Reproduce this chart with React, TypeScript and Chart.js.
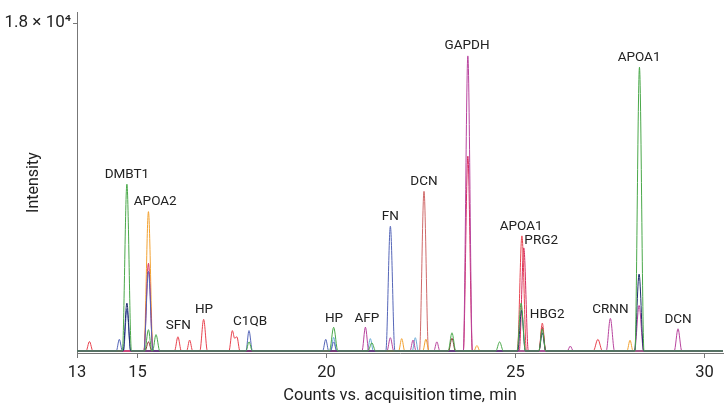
import React, { useEffect, useRef } from "react";
import { Chart, registerables } from "chart.js";

Chart.register(...registerables);

type Pt = [number, number];

// Axis settings (minutes / counts)
const xTickValues = [13.4, 15, 20, 25, 30];
const xTickLabels = ["13", "15", "20", "25", "30"];
const yTickValues = [18000];
const yTickLabels = ["1.8 × 10⁴"];

// Chromatogram traces: [time (min), intensity (counts)]
const traceGreen: Pt[] = [
  [13.4, 0], [14.6, 0], [14.72, 9160], [14.84, 0], [15.19, 0], [15.29, 1170], [15.38, 0],
  [15.4, 0], [15.49, 900], [15.59, 0], [17.87, 0], [17.95, 500], [18.04, 0],
  [20.08, 0], [20.19, 1300], [20.3, 0], [21.1, 0], [21.2, 450], [21.3, 0],
  [23.22, 0], [23.32, 1000], [23.42, 0], [24.48, 0], [24.58, 500], [24.68, 0],
  [25.04, 0], [25.15, 2630], [25.26, 0], [25.62, 0], [25.71, 1200], [25.8, 0],
  [28.16, 0], [28.28, 15580], [28.4, 0], [30.49, 0],
];
const traceNavy: Pt[] = [
  [13.4, 0], [14.62, 0], [14.72, 2630], [14.82, 0], [25.06, 0], [25.16, 2240], [25.26, 0],
  [25.62, 0], [25.71, 1000], [25.8, 0], [28.15, 0], [28.27, 4220], [28.39, 0], [30.49, 0],
];
const traceMagenta: Pt[] = [
  [13.4, 0], [20.94, 0], [21.03, 1310], [21.12, 0], [21.6, 0], [21.69, 730], [21.78, 0],
  [22.21, 0], [22.29, 600], [22.37, 0], [22.84, 0], [22.92, 500], [23.0, 0],
  [23.62, 0], [23.74, 16200], [23.86, 0], [26.37, 0], [26.45, 270], [26.53, 0],
  [27.4, 0], [27.51, 1790], [27.62, 0], [28.15, 0], [28.27, 2500], [28.39, 0],
  [29.2, 0], [29.3, 1220], [29.4, 0], [30.49, 0],
];
const traceBlue: Pt[] = [
  [13.4, 0], [14.44, 0], [14.52, 640], [14.6, 0], [14.63, 0], [14.72, 2300], [14.82, 0],
  [15.17, 0], [15.29, 4370], [15.41, 0], [17.87, 0], [17.95, 1120], [18.04, 0],
  [19.9, 0], [19.98, 640], [20.06, 0], [20.11, 0], [20.19, 500], [20.27, 0],
  [21.57, 0], [21.69, 6850], [21.81, 0], [30.49, 0],
];
const traceRed: Pt[] = [
  [13.4, 0], [13.64, 0], [13.73, 520], [13.82, 0], [15.98, 0], [16.07, 780], [16.16, 0],
  [16.3, 0], [16.38, 600], [16.46, 0], [16.65, 0], [16.75, 1740], [16.85, 0],
  [17.42, 0], [17.51, 1120], [17.57, 700], [17.63, 780], [17.71, 0],
  [25.05, 0], [25.17, 6320], [25.29, 0], [25.62, 0], [25.71, 1530], [25.8, 0],
  [27.06, 0], [27.18, 640], [27.3, 0], [30.49, 0],
];
const traceCrimson: Pt[] = [
  [13.4, 0], [15.17, 0], [15.29, 4810], [15.41, 0], [23.62, 0], [23.74, 10700], [23.86, 0],
  [25.1, 0], [25.22, 5660], [25.34, 0], [30.49, 0],
];
const traceOrange: Pt[] = [
  [13.4, 0], [15.17, 0], [15.29, 7650], [15.41, 0], [21.91, 0], [21.99, 680], [22.07, 0],
  [22.55, 0], [22.63, 650], [22.71, 0], [23.9, 0], [23.98, 300], [24.06, 0],
  [27.95, 0], [28.03, 590], [28.11, 0], [30.49, 0],
];
const tracePink: Pt[] = [[13.4, 0], [22.46, 0], [22.58, 8770], [22.7, 0], [30.49, 0]];
const traceDarkRed: Pt[] = [
  [13.4, 0], [15.2, 0], [15.29, 500], [15.38, 0], [23.23, 0], [23.32, 700], [23.41, 0],
  [25.62, 0], [25.71, 1300], [25.8, 0], [30.49, 0],
];
const traceLightBlue: Pt[] = [
  [13.4, 0], [20.11, 0], [20.19, 750], [20.27, 0], [21.08, 0], [21.16, 680], [21.24, 0],
  [22.27, 0], [22.35, 730], [22.43, 0], [30.49, 0],
];

const traces: Pt[][] = [
  traceGreen, traceNavy, traceMagenta, traceBlue, traceRed,
  traceCrimson, traceOrange, tracePink, traceDarkRed, traceLightBlue,
];
const traceColors = [
  "#4aa84a", "#1e2c6e", "#b8449e", "#5566b8", "#e8424e",
  "#d62a5e", "#f2a232", "#cf6a6a", "#8c2a30", "#6aaad6",
];

// Peak annotations
const peakNames = [
  "DMBT1", "APOA2", "SFN", "HP", "C1QB", "HP", "AFP", "FN", "DCN", "GAPDH",
  "APOA1", "PRG2", "HBG2", "CRNN", "APOA1", "DCN",
];
const peakLabelTimes = [
  14.72, 15.47, 16.08, 16.76, 17.98, 20.2, 21.07, 21.69, 22.58, 23.72,
  25.15, 25.68, 25.84, 27.51, 28.27, 29.3,
];
const peakLabelIntensities = [
  9690, 8200, 1385, 2290, 1600, 1760, 1760, 7400, 9320, 16770,
  6820, 6070, 2020, 2290, 16080, 1700,
];

const FONT = "Roboto, 'Noto Sans', sans-serif";

const labelPlugin = {
  id: "peakLabels",
  afterDatasetsDraw(chart: any) {
    const { ctx, scales } = chart;
    ctx.save();
    ctx.font = `13.5px ${FONT}`;
    ctx.fillStyle = "#222";
    ctx.textAlign = "center";
    ctx.textBaseline = "middle";
    peakNames.forEach((name, i) => {
      const x = scales.x.getPixelForValue(peakLabelTimes[i]);
      const y = scales.y.getPixelForValue(peakLabelIntensities[i]);
      ctx.fillText(name, x, y);
    });
    ctx.restore();
  },
};

export default function App() {
  const ref = useRef<HTMLCanvasElement | null>(null);

  useEffect(() => {
    if (!ref.current) return;
    const chart = new Chart(ref.current, {
      type: "line",
      data: {
        datasets: traces.map((tr, i) => ({
          data: tr.map(([x, y]) => ({ x, y })),
          borderColor: traceColors[i],
          borderWidth: 1,
          pointRadius: 0,
          fill: false,
          cubicInterpolationMode: "monotone" as const,
        })),
      },
      options: {
        animation: false,
        responsive: false,
        devicePixelRatio: 1,
        layout: { padding: { left: 0, right: 2, top: 2, bottom: 0 } },
        plugins: { legend: { display: false }, tooltip: { enabled: false } },
        scales: {
          x: {
            type: "linear",
            min: 13.4,
            max: 30.49,
            afterFit: (s: any) => { s.height = 57; },
            afterBuildTicks: (s: any) => { s.ticks = xTickValues.map((v) => ({ value: v })); },
            ticks: {
              callback: (v: any) => xTickLabels[xTickValues.indexOf(Number(v))] ?? "",
              font: { family: FONT, size: 16.5 },
              color: "#222",
              padding: 5,
              maxRotation: 0,
              autoSkip: false,
            },
            grid: { drawOnChartArea: false, drawTicks: true, tickLength: 5, color: "#777" },
            border: { color: "#777", width: 1 },
            title: {
              display: true,
              text: "Counts vs. acquisition time, min",
              font: { family: FONT, size: 16.5 },
              color: "#222",
              padding: { top: 0, bottom: 4 },
            },
          },
          y: {
            type: "linear",
            min: -110,
            max: 18600,
            afterFit: (s: any) => { s.width = 77; },
            afterBuildTicks: (s: any) => { s.ticks = yTickValues.map((v) => ({ value: v })); },
            ticks: {
              callback: (v: any) => yTickLabels[yTickValues.indexOf(Number(v))] ?? "",
              font: { family: FONT, size: 17 },
              color: "#222",
              padding: 2,
            },
            grid: { drawOnChartArea: false, drawTicks: true, tickLength: 4, color: "#777" },
            border: { color: "#777", width: 1 },
            title: {
              display: true,
              text: "Intensity",
              font: { family: FONT, size: 16 },
              color: "#222",
              padding: { top: 24, bottom: 0 },
            },
          },
        },
      },
      plugins: [labelPlugin],
    });
    return () => chart.destroy();
  }, []);

  return (
    <div style={{ position: "absolute", left: 0, top: 0, width: 725, height: 410, background: "#fff" }}>
      <canvas ref={ref} width={725} height={410} />
    </div>
  );
}
